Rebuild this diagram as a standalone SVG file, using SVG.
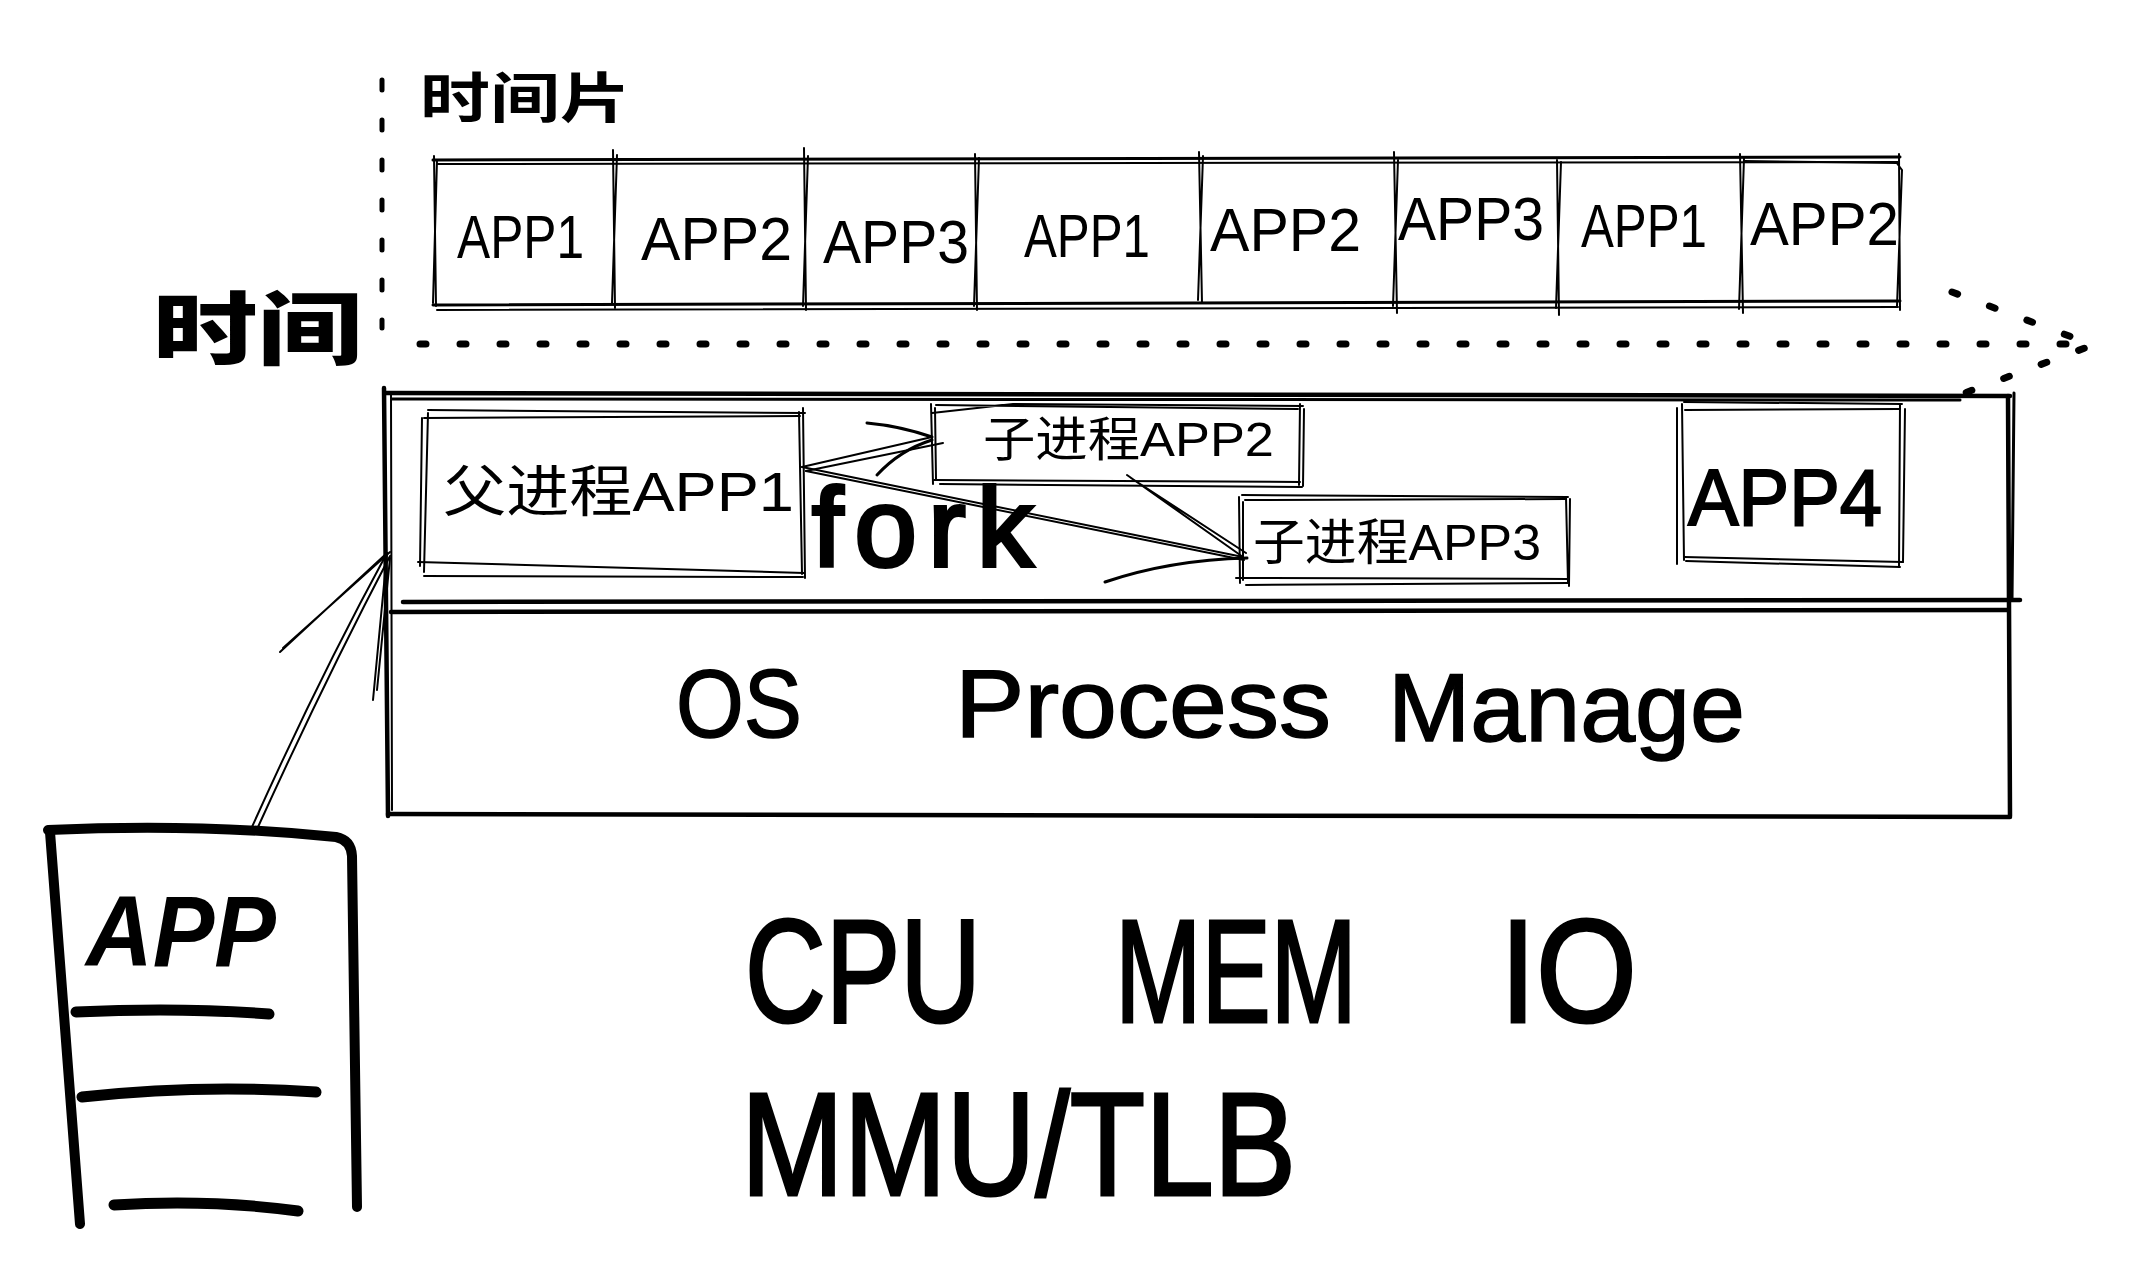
<svg xmlns="http://www.w3.org/2000/svg" width="2140" height="1282" viewBox="0 0 2140 1282">
<style>
.s{fill:none;stroke:#000;stroke-linecap:round;stroke-linejoin:round}
.t1{stroke-width:2}
.t2{stroke-width:3}
.t3{stroke-width:4.5}
.heavy{stroke-width:10}
.dot{fill:none;stroke:#000;stroke-width:7;stroke-linecap:round;stroke-dasharray:6 34}
.vdot{fill:none;stroke:#000;stroke-width:5;stroke-linecap:round;stroke-dasharray:10 30}
.lat{font-family:"Liberation Sans",Arial,sans-serif;fill:#000}
.cjk{font-family:"Liberation Sans","Noto Sans CJK SC",sans-serif;fill:#000}
.cell{font-size:62px}
.big{font-size:146px;stroke:#000;stroke-width:3}
.mid{font-size:96px;stroke:#000;stroke-width:1.5}
</style>
<rect width="2140" height="1282" fill="#fff"/>

<g id="time-axis">
  <path class="vdot" d="M382 80 L382 328"/>
  <text class="cjk" x="420" y="118" font-size="54" font-weight="700" textLength="210" lengthAdjust="spacingAndGlyphs">时间片</text>
  <text class="cjk" x="153" y="358" font-size="80" font-weight="900" textLength="209" lengthAdjust="spacingAndGlyphs">时间</text>
</g>

<g id="time-slices">
  <path class="s t2" d="M433 160 L1900 157"/>
  <path class="s t1" d="M437 164 L1898 162"/>
  <path class="s t2" d="M433 305 L1900 301"/>
  <path class="s t1" d="M437 310 L1898 307"/>
  <path class="s t1" d="M434 156 L436 306 M437 160 L433 303"/>
  <path class="s t1" d="M613 150 L615 308 M617 155 L612 303"/>
  <path class="s t1" d="M804 148 L806 310 M808 156 L803 306"/>
  <path class="s t1" d="M975 154 L977 310 M979 158 L974 306"/>
  <path class="s t1" d="M1199 152 L1202 303 M1203 156 L1198 300"/>
  <path class="s t1" d="M1394 152 L1397 313 M1398 160 L1393 306"/>
  <path class="s t1" d="M1557 160 L1559 315 M1561 162 L1556 308"/>
  <path class="s t1" d="M1740 154 L1743 313 M1744 158 L1739 309"/>
  <path class="s t1" d="M1899 154 L1900 310 M1896 162 L1902 170 L1897 306"/>
  <path class="s t1" d="M1744 161 L1897 163"/>
  <text class="lat cell" x="457" y="258" textLength="127" lengthAdjust="spacingAndGlyphs">APP1</text>
  <text class="lat cell" x="641" y="260" textLength="151" lengthAdjust="spacingAndGlyphs">APP2</text>
  <text class="lat cell" x="823" y="263" textLength="146" lengthAdjust="spacingAndGlyphs">APP3</text>
  <text class="lat cell" x="1024" y="257" textLength="126" lengthAdjust="spacingAndGlyphs">APP1</text>
  <text class="lat cell" x="1210" y="251" textLength="151" lengthAdjust="spacingAndGlyphs">APP2</text>
  <text class="lat cell" x="1398" y="240" textLength="146" lengthAdjust="spacingAndGlyphs">APP3</text>
  <text class="lat cell" x="1581" y="247" textLength="126" lengthAdjust="spacingAndGlyphs">APP1</text>
  <text class="lat cell" x="1750" y="245" textLength="149" lengthAdjust="spacingAndGlyphs">APP2</text>
</g>

<g id="os-box">
  <path class="s t3" d="M386 393 L2010 396"/>
  <path class="s t2" d="M392 399 L1960 400"/>
  <path class="s t3" d="M384 388 L388 816"/>
  <path class="s t1" d="M391 395 L392 810"/>
  <path class="s t3" d="M2008 396 L2010 816"/>
  <path class="s t2" d="M2014 393 L2012 600"/>
  <path class="s t3" d="M388 814 L2010 817"/>
  <path class="s t3" d="M403 602 L2020 600"/>
  <path class="s t3" d="M391 612 L2008 610"/>
  <text class="lat mid" x="676" y="737" textLength="126" lengthAdjust="spacingAndGlyphs">OS</text>
  <text class="lat mid" x="955" y="737" textLength="376" lengthAdjust="spacingAndGlyphs">Process</text>
  <text class="lat mid" x="1388" y="741" textLength="357" lengthAdjust="spacingAndGlyphs">Manage</text>
</g>

<g id="parent-app1">
  <path class="s t1" d="M428 410 L805 413 M424 418 L800 416"/>
  <path class="s t1" d="M418 562 L804 573 M424 576 L803 577"/>
  <path class="s t1" d="M428 413 L424 572 M422 418 L420 566"/>
  <path class="s t1" d="M803 408 L805 578 M799 412 L802 574"/>
  <text class="cjk" x="443" y="511" font-size="56" textLength="351" lengthAdjust="spacingAndGlyphs">父进程APP1</text>
</g>

<g id="child-app2">
  <path class="s t1" d="M932 413 L1013 404 L1303 406 M936 405 L1298 409"/>
  <path class="s t1" d="M934 480 L1300 482 M940 484 L1302 487"/>
  <path class="s t1" d="M931 404 L933 484 M935 408 L936 479"/>
  <path class="s t1" d="M1300 404 L1299 485 M1304 409 L1303 486"/>
  <text class="cjk" x="983" y="456" font-size="48" textLength="291" lengthAdjust="spacingAndGlyphs">子进程APP2</text>
</g>

<g id="child-app3">
  <path class="s t1" d="M1242 495 L1568 497 M1245 500 L1566 499"/>
  <path class="s t1" d="M1236 578 L1568 579 M1246 585 L1569 583"/>
  <path class="s t1" d="M1239 497 L1240 583 M1243 502 L1243 580"/>
  <path class="s t1" d="M1566 497 L1568 582 M1570 499 L1569 586"/>
  <text class="cjk" x="1253" y="560" font-size="50" textLength="288" lengthAdjust="spacingAndGlyphs">子进程APP3</text>
</g>

<g id="app4">
  <path class="s t1" d="M1684 402 L1902 404 M1685 410 L1899 409"/>
  <path class="s t1" d="M1684 557 L1903 562 M1686 561 L1900 567"/>
  <path class="s t1" d="M1677 408 L1677 564 M1682 404 L1684 560"/>
  <path class="s t1" d="M1900 404 L1899 567 M1905 409 L1903 562"/>
  <text class="lat" x="1688" y="525" font-size="80" stroke="#000" stroke-width="2" textLength="194" lengthAdjust="spacingAndGlyphs">APP4</text>
</g>

<g id="fork-label">
  <text class="lat" x="812" y="566" font-size="112" stroke="#000" stroke-width="4" textLength="221" lengthAdjust="spacing">fork</text>
</g>

<g id="app-doc">
  <path class="s heavy" d="M48 830 Q200 823 336 837 Q351 840 352 856 L357 1207"/>
  <path class="s heavy" d="M50 832 L80 1224"/>
  <path class="s" stroke-width="11" d="M76 1012 Q180 1007 269 1014"/>
  <path class="s" stroke-width="11" d="M82 1097 Q200 1084 316 1092"/>
  <path class="s" stroke-width="11" d="M114 1205 Q210 1199 298 1211"/>
  <text class="lat" x="86" y="966" font-size="100" font-weight="700" font-style="italic" textLength="190" lengthAdjust="spacingAndGlyphs">APP</text>
</g>

<g id="hardware">
  <text class="lat big" x="745" y="1022" textLength="236" lengthAdjust="spacingAndGlyphs">CPU</text>
  <text class="lat big" x="1115" y="1022" textLength="242" lengthAdjust="spacingAndGlyphs">MEM</text>
  <text class="lat big" x="1500" y="1022" textLength="137" lengthAdjust="spacingAndGlyphs">IO</text>
  <text class="lat big" x="741" y="1195" textLength="555" lengthAdjust="spacingAndGlyphs">MMU/TLB</text>
</g>

<g id="connectors">
  <path class="dot" d="M420 344 L2085 344"/>
  <path class="dot" d="M1952 292 L2093 345 L1962 394"/>
  <path class="s t1" d="M802 467 L932 437 M806 471 L943 443"/>
  <path class="s t2" d="M867 423 Q900 426 932 437 M877 475 Q900 450 932 440"/>
  <path class="s t1" d="M802 467 L1243 557 M806 471 L1244 560"/>
  <path class="s t1" d="M1127 475 L1243 557 M1131 478 L1246 553"/>
  <path class="s t2" d="M1105 582 Q1170 560 1247 558"/>
  <path class="s t1" d="M252 827 Q318 680 387 553 M258 827 Q324 682 390 556"/>
  <path class="s t1" d="M280 652 L387 553 M283 648 L390 552"/>
  <path class="s t1" d="M373 700 L387 553 M377 690 L390 558"/>
</g>
</svg>
